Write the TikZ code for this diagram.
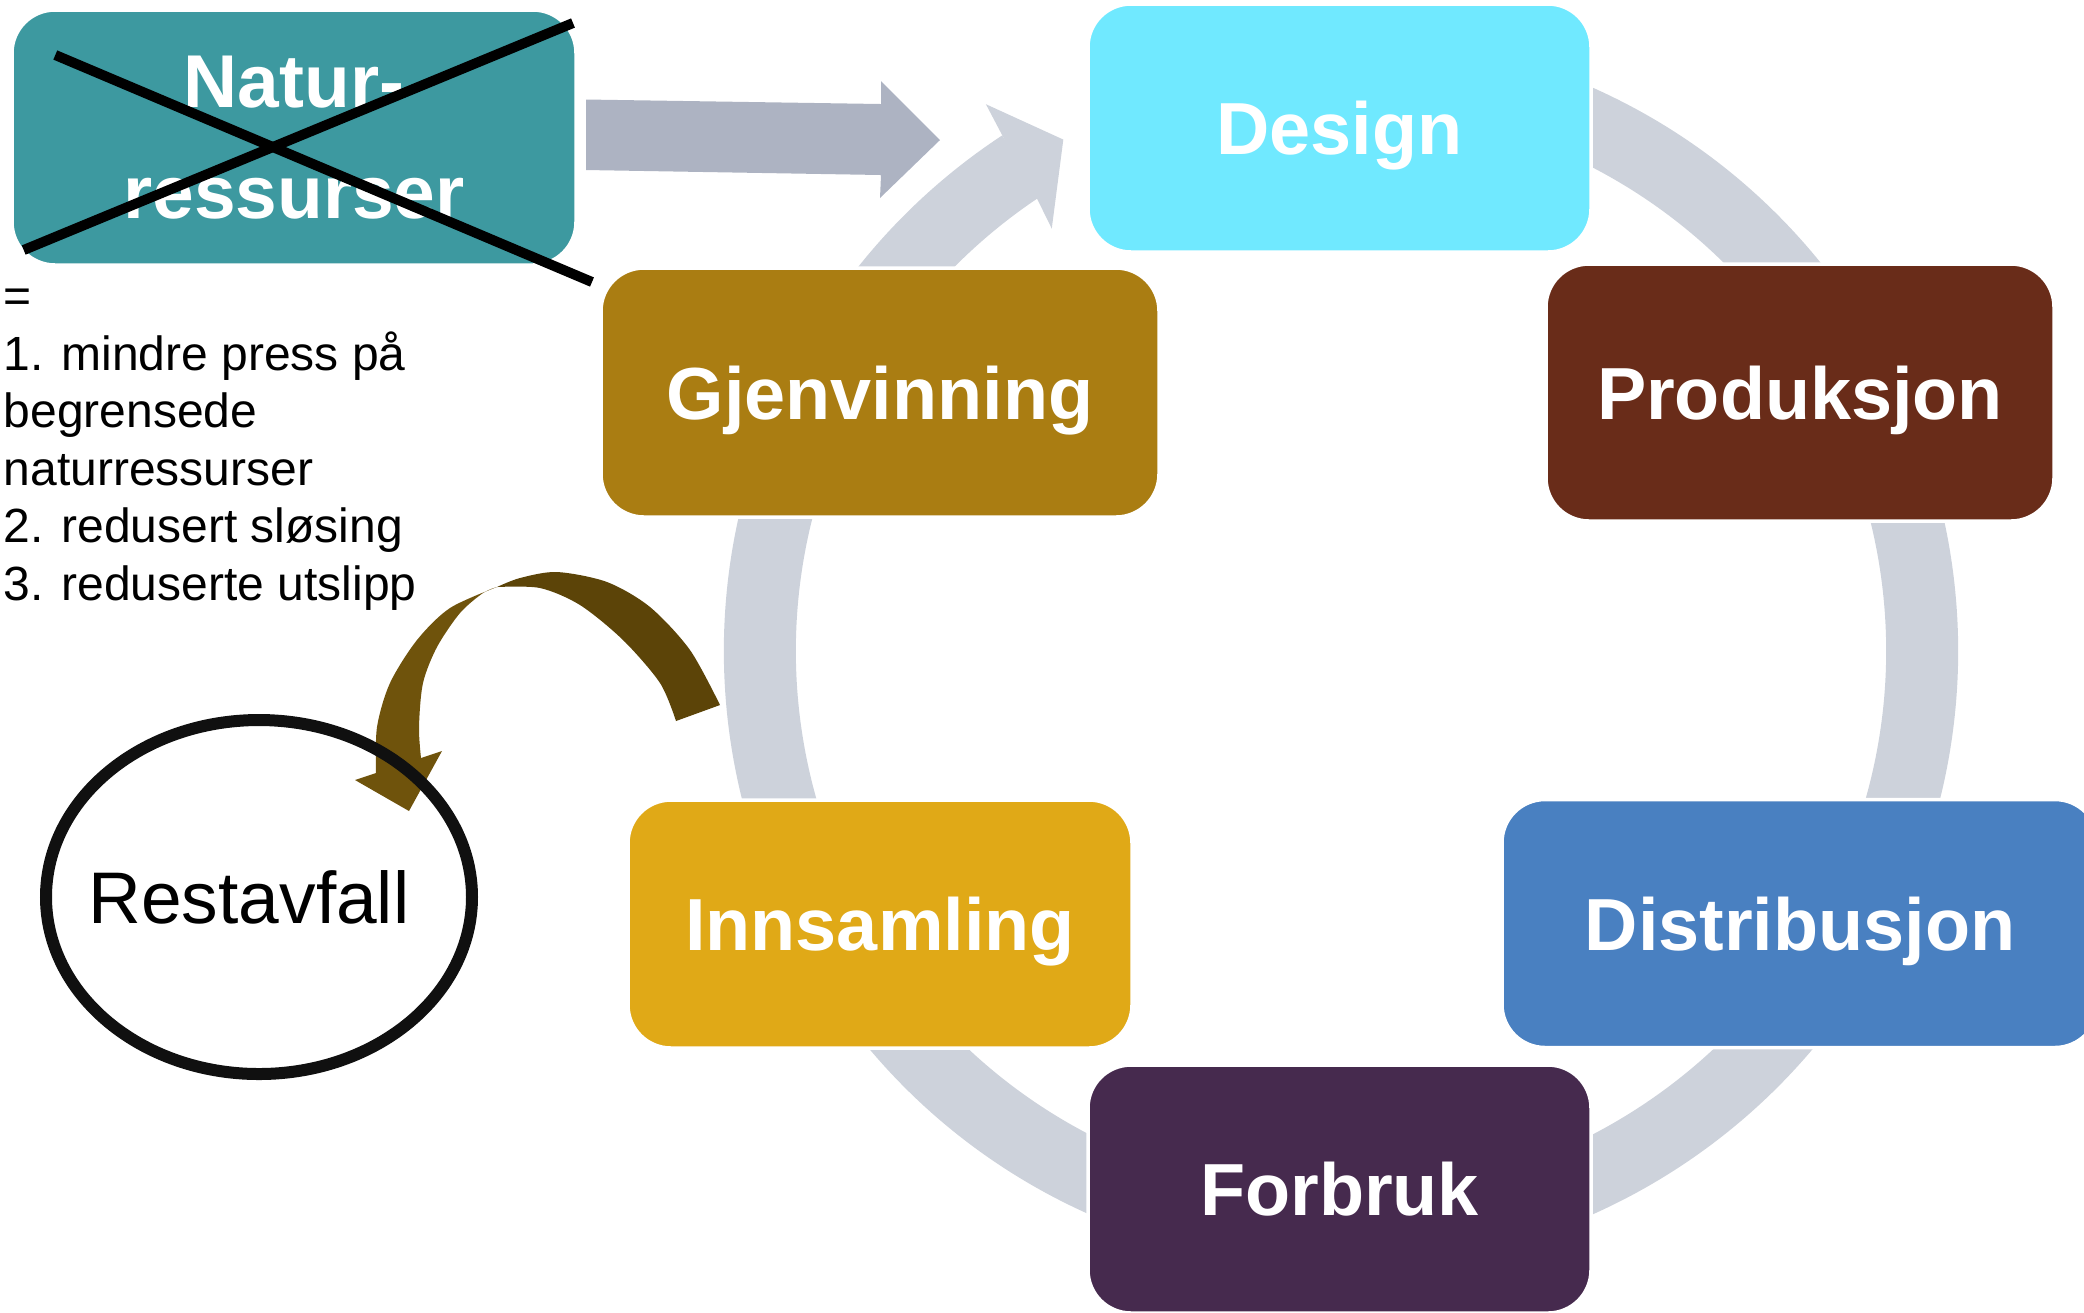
\documentclass[tikz,border=0pt]{standalone}
\usepackage{fontspec}
\setmainfont{Liberation Sans}
\usetikzlibrary{shapes.geometric}

\definecolor{naturteal}{HTML}{3D99A0}
\definecolor{designcyan}{HTML}{70E9FF}
\definecolor{prodbrown}{HTML}{692C19}
\definecolor{gjenochre}{HTML}{AA7D12}
\definecolor{innsgold}{HTML}{E0A917}
\definecolor{distblue}{HTML}{4980C1}
\definecolor{forbrukplum}{HTML}{462A4E}
\definecolor{ringgray}{HTML}{CDD2DB}
\definecolor{arrowgray}{HTML}{ADB3C2}
\definecolor{darkbrown}{HTML}{5C4408}
\definecolor{lightbrown}{HTML}{6F530C}
\definecolor{ringblack}{HTML}{101010}

\tikzset{
  stagebox/.style={rectangle, rounded corners=0.43cm, draw=white, line width=1pt,
    text=white, inner sep=0pt, font=\bfseries\fontsize{21}{25}\selectfont,
    minimum width=5.03cm, minimum height=2.48cm},
  oneline/.style={text height=0.53cm, text depth=0pt},
  listtext/.style={anchor=base west, inner sep=0pt, font=\fontsize{13.66}{16.4}\selectfont},
}

\begin{document}
\begin{tikzpicture}[>=latex]
  \useasboundingbox (0,0) rectangle (20.84,-13.12);
  \coordinate (ringc) at (13.41,-6.51);
  \draw [line width=0.72cm, ringgray] (ringc) ++(70:5.81) arc [start angle=70, end angle=-236.7, radius=5.81];
  \fill [ringgray, shift={(ringc)}] (123.3:6.17) -- (123.0:6.52) -- (118.5:5.82) -- (124.4:5.12) -- (123.9:5.45) -- cycle;

  \node (natur) at (2.94,-1.375) [stagebox, fill=naturteal, minimum width=5.64cm, minimum height=2.55cm,
    align=center, font=\bfseries\fontsize{21.3}{31.6}\selectfont] {Natur-\\ressurser};
  \node (design) at (13.395,-1.28) [stagebox, oneline, fill=designcyan] {Design};
  \node (prod) at (18.00,-3.925) [stagebox, oneline, fill=prodbrown, minimum width=5.08cm, minimum height=2.57cm] {Produksjon};
  \node (dist) at (18.00,-9.235) [stagebox, oneline, fill=distblue, minimum width=5.96cm] {Distribusjon};
  \node (forbruk) at (13.395,-11.89) [stagebox, oneline, fill=forbrukplum] {Forbruk};
  \node (inns) at (8.80,-9.24) [stagebox, oneline, fill=innsgold, minimum width=5.04cm] {Innsamling};
  \node (gjen) at (8.80,-3.925) [stagebox, oneline, fill=gjenochre, minimum width=5.58cm, minimum height=2.49cm] {Gjenvinning};

  \fill [arrowgray] (5.86,-0.995) -- (8.81,-1.04) -- (8.81,-0.81) -- (9.40,-1.40) -- (8.80,-1.98) -- (8.81,-1.75) -- (5.86,-1.70) -- cycle;

  \draw [line width=0.1cm] (0.553,-0.55) -- (5.92,-2.82);
  \draw [line width=0.1cm] (0.237,-2.50) -- (5.73,-0.23);

  \foreach \txt [count=\i from 0] in {=, 1. mindre press på, begrensede, naturressurser, 2. redusert sløsing, 3. reduserte utslipp}
    \node (item\i) at (0.03,-3.125-0.575*\i) [listtext] {\txt};

  \fill [darkbrown] plot [smooth] coordinates {(7.20,-7.05) (6.90,-6.50) (6.50,-6.07) (6.07,-5.82) (5.57,-5.72) (5.20,-5.78) (4.97,-5.87)}
    -- plot [smooth] coordinates {(4.97,-5.87) (5.40,-5.88) (5.80,-6.05) (6.23,-6.40) (6.60,-6.83) (6.76,-7.21)} -- cycle;
  \fill [lightbrown] plot [smooth] coordinates {(4.97,-5.87) (4.50,-6.08) (4.17,-6.40) (3.90,-6.83) (3.77,-7.27) (3.76,-7.73)}
    -- (3.55,-7.80) -- (4.09,-8.11) -- (4.42,-7.51)
    -- plot [smooth] coordinates {(4.21,-7.58) (4.19,-7.27) (4.23,-6.83) (4.37,-6.47) (4.60,-6.13) (4.83,-5.93) (4.97,-5.87)} -- cycle;

  \node (rest) at (2.59,-8.97) [ellipse, draw=ringblack, line width=0.12cm, minimum width=4.26cm, minimum height=3.54cm,
    inner xsep=-0.4cm, inner ysep=0pt, text height=0.52cm, text depth=0pt,
    font=\fontsize{20.8}{24}\selectfont] {Restavfall\kern0.2cm};
\end{tikzpicture}
\end{document}
